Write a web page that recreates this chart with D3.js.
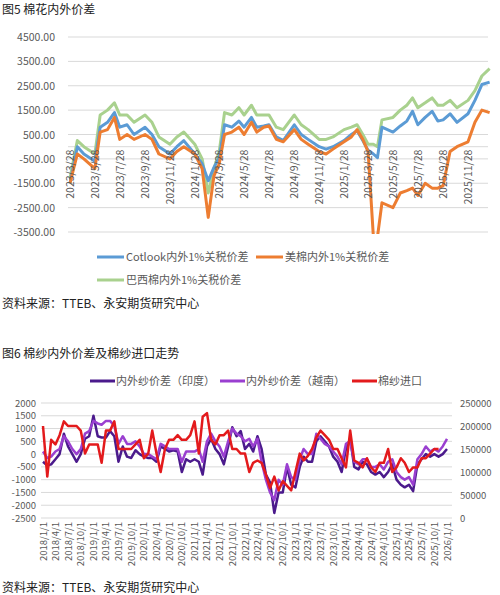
<!DOCTYPE html>
<html><head><meta charset="utf-8">
<script src="https://cdn.jsdelivr.net/npm/d3@7"></script>
<style>
body{margin:0;background:#fff;font-family:"Noto Sans CJK SC","Noto Sans",sans-serif;}
text{font-family:"Noto Sans CJK SC","Noto Sans",sans-serif;}
</style></head><body>
<svg id="c" width="500" height="595"></svg>
<script>
// ---- chart 1 data (图5) ----
const dates1 = ["2023-03-28","2023-04-15","2023-05-01","2023-05-28","2023-06-10","2023-06-28","2023-07-15","2023-07-28","2023-08-15","2023-09-01","2023-09-28","2023-10-15","2023-11-01","2023-11-28","2023-12-15","2024-01-01","2024-01-28","2024-02-15","2024-03-01","2024-03-15","2024-03-28","2024-04-10","2024-04-28","2024-05-15","2024-05-28","2024-06-15","2024-06-28","2024-07-15","2024-07-28","2024-08-15","2024-09-01","2024-09-28","2024-10-15","2024-11-01","2024-11-28","2024-12-15","2025-01-01","2025-01-28","2025-02-15","2025-03-01","2025-03-15","2025-03-28","2025-04-10","2025-04-20","2025-05-01","2025-05-28","2025-06-15","2025-07-01","2025-07-15","2025-07-28","2025-08-15","2025-09-01","2025-09-15","2025-09-28","2025-10-15","2025-11-01","2025-11-28","2025-12-15","2026-01-01","2026-01-20"];
const cotlook = [-1500,0,-300,-600,800,1000,1400,800,900,500,800,500,0,-300,0,250,-300,-700,-1400,-850,-450,900,800,1050,800,1200,800,850,900,400,250,900,500,300,0,-100,0,250,500,650,250,-150,-300,-450,800,600,850,1050,1450,900,1200,1450,1050,1100,1350,1000,1350,1900,2550,2650];
const meimian = [-1500,-300,-500,-900,600,700,1200,300,500,300,500,300,-300,-500,-200,0,-300,-900,-2900,-1200,-700,500,600,800,500,1000,600,800,850,300,200,700,300,100,-200,-300,-100,200,400,700,300,-200,-3700,-3700,-2300,-2500,-1900,-1800,-1700,-2000,-1500,-1700,-1700,-1600,-200,0,200,1000,1500,1400];
const baxi = [-1300,250,0,-300,1300,1500,1800,1300,1300,1000,1300,1000,400,100,400,600,100,-500,-1900,-900,-200,1400,1300,1600,1300,1700,1300,1300,1300,800,700,1300,900,700,300,300,400,700,800,900,500,100,100,0,1100,1200,1500,1700,2000,1600,1800,2000,1700,1700,1900,1600,1900,2300,2900,3200];
const ticks1 = ["2023-03-28","2023-05-28","2023-07-28","2023-09-28","2023-11-28","2024-01-28","2024-03-28","2024-05-28","2024-07-28","2024-09-28","2024-11-28","2025-01-28","2025-03-28","2025-05-28","2025-07-28","2025-09-28","2025-11-28"];
const yTicks1 = [4500,3500,2500,1500,500,-500,-1500,-2500,-3500];

// ---- chart 2 data (图6) ----
const months2 = d3.timeMonths(new Date(2018,0,1), new Date(2026,1,1)).map(d => d3.timeFormat("%Y-%m-%d")(d));
const india = [-300,-450,-400,-200,0,800,300,0,-300,0,600,700,1500,700,650,650,900,700,-300,300,-100,-150,150,0,-100,-150,-150,-300,300,200,100,150,100,-700,-200,-300,-200,-300,-800,300,600,200,0,-400,300,1050,700,900,200,400,100,700,200,-800,-1100,-2300,-1500,-1500,-500,-1200,-1300,-500,-100,-300,-300,500,700,500,300,-100,-300,-700,200,600,-500,-600,-300,-400,-700,-800,-700,-900,-700,-400,-1000,-1200,-1300,-1200,-1450,-400,-200,0,-100,0,-100,0,200];
const vietnam = [100,-150,-100,100,200,700,500,200,0,200,800,900,1300,1200,1150,1300,1300,1100,400,700,400,400,500,300,0,0,-100,-200,400,300,200,200,200,-300,100,100,100,200,-300,500,800,500,300,-100,500,1000,800,700,500,600,300,600,-300,-1000,-1500,-1800,-1000,-1200,-400,-900,-1000,-200,200,0,0,800,600,400,300,100,-100,-400,400,500,-300,-400,-200,-200,-500,-500,-400,-600,-300,-200,-700,-900,-1000,-900,-1200,-200,0,300,100,200,100,300,600];
const imports = [200,90,170,160,180,210,200,200,200,190,140,160,160,160,120,190,190,210,150,150,150,150,160,170,130,140,190,140,100,150,170,170,180,170,170,180,210,140,220,228,170,160,180,180,190,150,150,140,140,100,120,125,120,95,65,90,60,80,70,60,100,140,125,135,150,175,190,180,170,150,150,130,110,190,125,120,110,130,110,100,120,120,150,100,110,130,120,100,110,110,130,130,140,150,150].map(v => v * 1000);
const leftTicks2 = [2000,1500,1000,500,0,-500,-1000,-1500,-2000,-2500];
const rightTicks2 = [250000,200000,150000,100000,50000,0];

const parse = d3.timeParse("%Y-%m-%d");
const svg = d3.select("#c");
const grey = "#595959";

// ===== chart 1 =====
svg.append("text").attr("x", 2).attr("y", 14).attr("font-size", 12).attr("fill", "#222").text("图5 棉花内外价差");

const x1 = d3.scaleTime().domain([parse("2023-03-28"), parse("2025-11-28")]).range([70, 468]);
const y1 = d3.scaleLinear().domain([-3500, 4500]).range([232, 37]);

svg.append("g").selectAll("line").data(yTicks1).enter().append("line")
    .attr("x1", 68).attr("x2", 488)
    .attr("y1", d => y1(d)).attr("y2", d => y1(d))
    .attr("stroke", "#d9d9d9").attr("stroke-width", 1);
svg.append("line").attr("x1", 68).attr("x2", 488).attr("y1", y1(0)).attr("y2", y1(0)).attr("stroke", "#d9d9d9");

svg.append("g").selectAll("text").data(yTicks1).enter().append("text")
    .attr("x", 55).attr("y", d => y1(d) + 4)
    .attr("text-anchor", "end").attr("font-size", 10.5).attr("fill", grey)
    .text(d => d.toFixed(2));

svg.append("clipPath").attr("id", "clip1").append("rect").attr("x", 60).attr("y", 30).attr("width", 435).attr("height", 204);

const series1 = [
    {vals: cotlook, color: "#5B9BD5"},
    {vals: meimian, color: "#ED7D31"},
    {vals: baxi, color: "#A9D18E"}
];
const line1 = d3.line().x((d, i) => x1(parse(dates1[i]))).y(d => y1(d));
// green first, then blue, orange on top
[series1[2], series1[0], series1[1]].forEach(s => {
    svg.append("path").datum(s.vals).attr("d", line1).attr("clip-path", "url(#clip1)")
        .attr("fill", "none").attr("stroke", s.color).attr("stroke-width", 3).attr("stroke-linejoin", "round");
});

svg.append("g").selectAll("text").data(ticks1).enter().append("text")
    .attr("transform", d => `translate(${x1(parse(d)) + 4},${y1(0) + 3}) rotate(-90)`)
    .attr("text-anchor", "end").attr("font-size", 10.5).attr("fill", grey)
    .text(d => { const p = parse(d); return `${p.getFullYear()}/${p.getMonth() + 1}/${p.getDate()}`; });

const leg1 = [
    {t: "Cotlook内外1%关税价差", c: "#5B9BD5", x: 97, y: 257},
    {t: "美棉内外1%关税价差", c: "#ED7D31", x: 256, y: 257},
    {t: "巴西棉内外1%关税价差", c: "#A9D18E", x: 97, y: 280}
];
leg1.forEach(l => {
    svg.append("line").attr("x1", l.x).attr("x2", l.x + 27).attr("y1", l.y).attr("y2", l.y)
        .attr("stroke", l.c).attr("stroke-width", 3);
    svg.append("text").attr("x", l.x + 29).attr("y", l.y + 4).attr("font-size", 11).attr("fill", grey).text(l.t);
});
svg.append("text").attr("x", 2).attr("y", 308).attr("font-size", 12).attr("fill", "#222").text("资料来源：TTEB、永安期货研究中心");

// ===== chart 2 =====
svg.append("text").attr("x", 2).attr("y", 358).attr("font-size", 12).attr("fill", "#222").text("图6 棉纱内外价差及棉纱进口走势");

const x2 = d3.scaleTime().domain([parse("2018-01-01"), parse("2026-01-01")]).range([43, 447]);
const y2 = d3.scaleLinear().domain([-2500, 2000]).range([518, 403]);
const y2r = d3.scaleLinear().domain([0, 250000]).range([518, 403]);

svg.append("g").selectAll("line").data(leftTicks2).enter().append("line")
    .attr("x1", 41).attr("x2", 452)
    .attr("y1", d => y2(d)).attr("y2", d => y2(d))
    .attr("stroke", "#d9d9d9");
svg.append("g").selectAll("text").data(leftTicks2).enter().append("text")
    .attr("x", 36).attr("y", d => y2(d) + 3.5)
    .attr("text-anchor", "end").attr("font-size", 9.5).attr("fill", grey).text(d => d);
svg.append("g").selectAll("text").data(rightTicks2).enter().append("text")
    .attr("x", 460).attr("y", d => y2r(d) + 3.5)
    .attr("font-size", 9.5).attr("fill", grey).text(d => d);

const line2 = d3.line().x((d, i) => x2(parse(months2[i]))).y(d => y2(d));
const line2r = d3.line().x((d, i) => x2(parse(months2[i]))).y(d => y2r(d));
svg.append("path").datum(india).attr("d", line2).attr("fill", "none").attr("stroke", "#4B1A8C").attr("stroke-width", 2.5).attr("stroke-linejoin", "round");
svg.append("path").datum(vietnam).attr("d", line2).attr("fill", "none").attr("stroke", "#9A3FD0").attr("stroke-width", 2.5).attr("stroke-linejoin", "round");
svg.append("path").datum(imports).attr("d", line2r).attr("fill", "none").attr("stroke", "#E31A1C").attr("stroke-width", 2.5).attr("stroke-linejoin", "round");

const ticks2 = d3.timeMonths(new Date(2018,0,1), new Date(2026,0,2), 3);
svg.append("g").selectAll("text").data(ticks2).enter().append("text")
    .attr("transform", d => `translate(${x2(d) + 3.5},${522}) rotate(-90)`)
    .attr("text-anchor", "end").attr("font-size", 9.5).attr("fill", grey)
    .text(d => `${d.getFullYear()}/${d.getMonth() + 1}/1`);

const leg2 = [
    {t: "内外纱价差（印度）", c: "#4B1A8C", x: 90},
    {t: "内外纱价差（越南）", c: "#9A3FD0", x: 220},
    {t: "棉纱进口", c: "#E31A1C", x: 352}
];
leg2.forEach(l => {
    svg.append("line").attr("x1", l.x).attr("x2", l.x + 25).attr("y1", 381).attr("y2", 381)
        .attr("stroke", l.c).attr("stroke-width", 3);
    svg.append("text").attr("x", l.x + 26).attr("y", 385).attr("font-size", 11).attr("fill", grey).text(l.t);
});
svg.append("text").attr("x", 2).attr("y", 592).attr("font-size", 12).attr("fill", "#222").text("资料来源：TTEB、永安期货研究中心");
</script>
</body></html>
